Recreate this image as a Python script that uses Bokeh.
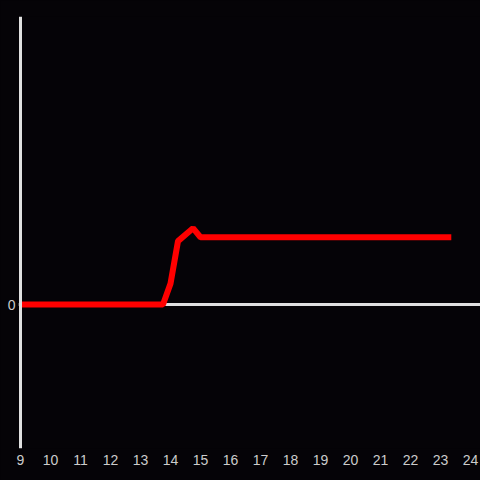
from bokeh.plotting import figure
from bokeh.models import Span, FixedTicker, Range1d, GlobalInlineStyleSheet
from bokeh.embed import file_html
from bokeh.resources import INLINE

# data
hours = [9, 13.75, 14.0, 14.25, 14.75, 15.0, 23.36]
values = [0, 0, 0.145, 0.44, 0.53, 0.467, 0.467]
x_ticks = list(range(9, 25))
y_ticks = [0]

BG = "#050307"
AXIS = "#e0e0e0"
LABEL = "#cccccc"

p = figure(width=480, height=480, output_backend="svg", toolbar_location=None,
           x_range=Range1d(9 - 2 / 30, 9 + 460 / 30), y_range=Range1d(-1, 2),
           min_border_left=18, min_border_right=0, min_border_top=16, min_border_bottom=32,
           background_fill_color=BG, border_fill_color=BG, outline_line_color=None)
p.stylesheets = [GlobalInlineStyleSheet(css=f"body{{margin:0;background:{BG};overflow:hidden}}")]

p.grid.visible = False
for ax in (p.xaxis[0], p.yaxis[0]):
    ax.axis_line_color = None
    ax.major_tick_line_color = None
    ax.minor_tick_line_color = None
    ax.major_tick_out = 0
    ax.major_tick_in = 0
    ax.minor_tick_out = 0
    ax.major_label_text_color = LABEL
    ax.major_label_text_font = "Liberation Sans"
    ax.major_label_text_font_size = "14px"
p.xaxis[0].major_label_standoff = 6
p.yaxis[0].major_label_standoff = 3
p.xaxis[0].ticker = FixedTicker(ticks=x_ticks)
p.yaxis[0].ticker = FixedTicker(ticks=y_ticks)

hline = Span(location=0, dimension="width", line_color=AXIS, line_width=3, level="underlay")
p.add_layout(hline)

p.line(hours, values, line_color="#ff0000", line_width=6)

vline = Span(location=9, dimension="height", line_color=AXIS, line_width=3, level="overlay")
p.add_layout(vline)

open("out.html", "w").write(file_html(p, INLINE))
